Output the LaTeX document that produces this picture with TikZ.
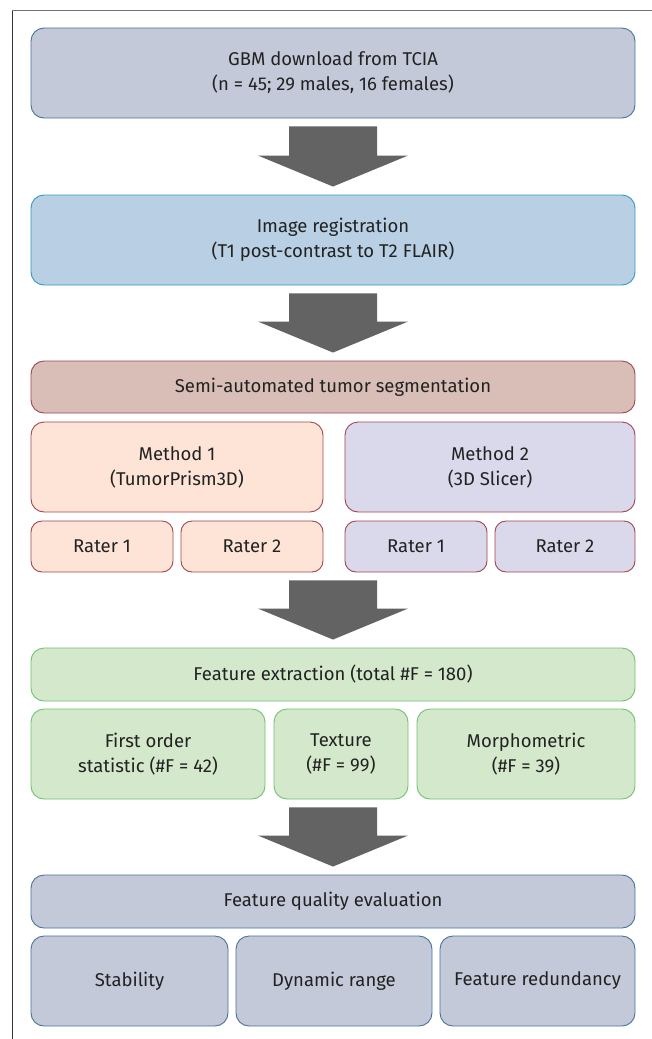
\documentclass[tikz,border=0pt]{standalone}
\usepackage{fontspec}
\setmainfont{Fira Sans}
\usetikzlibrary{calc}
\definecolor{bluegrayfill}{HTML}{C3C9D8}
\definecolor{bluegrayline}{HTML}{46739A}
\definecolor{lightbluefill}{HTML}{B9D0E4}
\definecolor{lightblueline}{HTML}{3499C6}
\definecolor{rosefill}{HTML}{D9BEB7}
\definecolor{redline}{HTML}{A2464D}
\definecolor{peachfill}{HTML}{FDE4D7}
\definecolor{lavfill}{HTML}{DAD8EB}
\definecolor{greenfill}{HTML}{D4E8CB}
\definecolor{greenline}{HTML}{72C272}
\definecolor{arrowgray}{HTML}{636363}
\definecolor{textgray}{HTML}{222222}
\tikzset{
  box/.style={draw, line width=0.9pt, rounded corners=13pt, align=center,
    inner sep=0pt, font=\fontsize{18.5}{25}\selectfont, text=textgray},
  bluegray/.style={box, fill=bluegrayfill, draw=bluegrayline},
  lightblue/.style={box, fill=lightbluefill, draw=lightblueline},
  rose/.style={box, fill=rosefill, draw=redline},
  peach/.style={box, fill=peachfill, draw=redline},
  lav/.style={box, fill=lavfill, draw=redline},
  green/.style={box, fill=greenfill, draw=greenline},
}
\newcommand\blockarrow[2]{%
  \fill[arrowgray]
    ($(#2.north |- #1.south)+(-44,8)$) -- ($(#2.north |- #1.south)+(44,8)$)
    -- ($(#2.north)+(44,-39)$) -- ($(#2.north)+(75,-39)$)
    -- ($(#2.north)+(0,-8)$)
    -- ($(#2.north)+(-75,-39)$) -- ($(#2.north)+(-44,-39)$) -- cycle;}
\begin{document}
\begin{tikzpicture}[x=1pt,y=-1pt]
\useasboundingbox (0,0) rectangle (652,1039);
\fill[white] (0,0) rectangle (652,1039);
\coordinate (fl) at (12,1039);
\coordinate (fc) at (12,10);
\coordinate (fr) at (652,10);
\draw[line width=1pt, draw=black!80] (fl) -- (fc);
\draw[line width=1pt, draw=black!55] (fc) -- (fr);

\node[bluegray, minimum width=604, minimum height=90] (gbm) at (333,73)
  {GBM download from TCIA\\(n = 45; 29 males, 16 females)};
\node[lightblue, minimum width=604, minimum height=90] (reg) at (333,240)
  {Image registration\\(T1 post-contrast to T2 FLAIR)};
\node[rose, minimum width=604, minimum height=52] (seg) at (333,387)
  {Semi-automated tumor segmentation};
\node[peach, minimum width=292, minimum height=90] (m1) at (177,467)
  {Method 1\\(TumorPrism3D)};
\node[lav, minimum width=290, minimum height=90] (m2) at (490,467)
  {Method 2\\(3D Slicer)};
\node[peach, rounded corners=11pt, minimum width=142, minimum height=51] (r11) at (102,546.5) {Rater 1};
\node[peach, rounded corners=11pt, minimum width=142, minimum height=51] (r12) at (252,546.5) {Rater 2};
\node[lav, rounded corners=11pt, minimum width=142, minimum height=51] (r21) at (416,546.5) {Rater 1};
\node[lav, rounded corners=11pt, minimum width=140, minimum height=51] (r22) at (565,546.5) {Rater 2};
\node[green, minimum width=604, minimum height=53] (fe) at (333,674.5)
  {Feature extraction (total \#F = 180)};
\node[green, minimum width=234, minimum height=90] (fo) at (148,754)
  {First order\\statistic (\#F = 42)};
\node[green, minimum width=134, minimum height=90] (tex) at (341,754)
  {Texture\\(\#F = 99)};
\node[green, minimum width=218, minimum height=90] (mor) at (526,754)
  {Morphometric\\(\#F = 39)};
\node[bluegray, minimum width=604, minimum height=53] (fq) at (333,901.5)
  {Feature quality evaluation};
\node[bluegray, minimum width=197, minimum height=90] (stab) at (129.5,981) {Stability};
\node[bluegray, minimum width=196, minimum height=90] (dyn) at (334,981) {Dynamic range};
\node[bluegray, minimum width=195, minimum height=90] (red) at (537.5,981) {Feature redundancy};

\blockarrow{gbm}{reg}
\blockarrow{reg}{seg}
\blockarrow{r12}{fe}
\blockarrow{tex}{fq}
\end{tikzpicture}
\end{document}
